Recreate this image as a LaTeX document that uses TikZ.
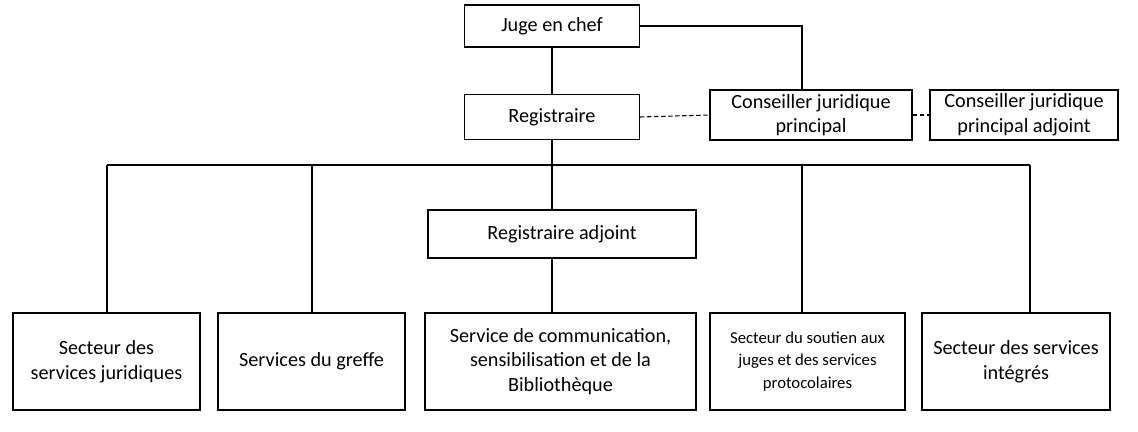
\documentclass[tikz,border=0pt]{standalone}
\usepackage{fontspec}
\setmainfont{Carlito}
\begin{document}
\begin{tikzpicture}[x=0.02cm,y=-0.02cm,
  box/.style={draw,line width=0.6pt,inner sep=0pt,align=center,font=\fontsize{11.5}{14}\selectfont},
  ln/.style={line width=0.6pt},
  dl/.style={line width=0.6pt,dash pattern=on 2.5pt off 1.5pt}]
\useasboundingbox (0,0) rectangle (1138,432);
\node[box,minimum width=175*0.02cm,minimum height=42*0.02cm] (juge) at (552,26) {Juge en chef};
\node[box,minimum width=175*0.02cm,minimum height=45*0.02cm] (reg) at (552,117) {Registraire};
\node[box,minimum width=202*0.02cm,minimum height=50*0.02cm] (cjp) at (811,115) {Conseiller juridique\\principal};
\node[box,minimum width=188*0.02cm,minimum height=50*0.02cm] (cjpa) at (1024,115) {Conseiller juridique\\principal adjoint};
\node[box,minimum width=268*0.02cm,minimum height=48*0.02cm] (radj) at (562,234) {Registraire adjoint};
\node[box,minimum width=187*0.02cm,minimum height=97*0.02cm] (b1) at (106.5,361.5) {Secteur des\\services juridiques};
\node[box,minimum width=187*0.02cm,minimum height=97*0.02cm] (b2) at (311.5,361.5) {Services du greffe};
\node[box,minimum width=271*0.02cm,minimum height=97*0.02cm] (b3) at (560.5,361.5) {Service de communication,\\sensibilisation et de la\\Biblioth\`eque};
\node[box,minimum width=195*0.02cm,minimum height=97*0.02cm,font=\fontsize{9.5}{13}\selectfont] (b4) at (807.5,361.5) {Secteur du soutien aux\\juges et des services\\protocolaires};
\node[box,minimum width=188*0.02cm,minimum height=97*0.02cm] (b5) at (1016,361.5) {Secteur des services\\int\'egr\'es};
\coordinate (jc) at (802,26);
\coordinate (busL) at (107,165);
\coordinate (busR) at (1030,165);
\draw[ln] (juge.east) -- (jc) -- (cjp.north -| jc);
\draw[ln] (reg.north) -- (juge.south);
\draw[dl] (reg.east) -- (cjp.west);
\draw[dl] (cjp.east) -- (cjpa.west);
\draw[ln] (busL) -- (busR);
\draw[ln] (reg.south) -- (reg.south |- radj.north);
\draw[ln] (busL) -- (busL |- b1.north);
\draw[ln] (312,165) -- (b2.north -| 312,0);
\draw[ln] (802,165) -- (b4.north -| 802,0);
\draw[ln] (busR) -- (busR |- b5.north);
\draw[ln] (radj.south -| reg.south) -- (b3.north -| reg.south);
\end{tikzpicture}
\end{document}
